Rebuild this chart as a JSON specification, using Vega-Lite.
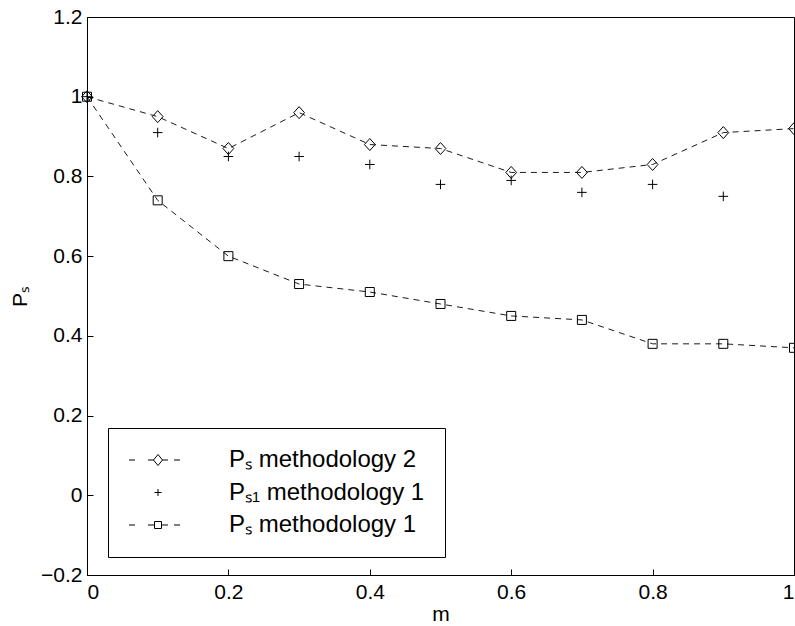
{
  "$schema": "https://vega.github.io/schema/vega-lite/v6.json",
  "width": 707,
  "height": 558,
  "autosize": {"type": "none"},
  "padding": {"left": 87, "top": 17, "right": 1, "bottom": 51},
  "background": "white",
  "config": {
    "view": {"stroke": "black", "strokeWidth": 1},
    "font": "Liberation Sans",
    "axis": {
      "domainColor": "black", "tickColor": "black", "labelColor": "black", "titleColor": "black",
      "labelFont": "Liberation Sans", "titleFont": "Liberation Sans",
      "labelFontSize": 21, "titleFontSize": 21, "titleFontWeight": "normal",
      "grid": false, "tickSize": -6, "domainWidth": 1, "tickWidth": 1
    }
  },
  "data": {"values": [
    {"m": 0.0, "value": 1.0, "series": "Pₛ methodology 2"},
    {"m": 0.1, "value": 0.95, "series": "Pₛ methodology 2"},
    {"m": 0.2, "value": 0.87, "series": "Pₛ methodology 2"},
    {"m": 0.3, "value": 0.96, "series": "Pₛ methodology 2"},
    {"m": 0.4, "value": 0.88, "series": "Pₛ methodology 2"},
    {"m": 0.5, "value": 0.87, "series": "Pₛ methodology 2"},
    {"m": 0.6, "value": 0.81, "series": "Pₛ methodology 2"},
    {"m": 0.7, "value": 0.81, "series": "Pₛ methodology 2"},
    {"m": 0.8, "value": 0.83, "series": "Pₛ methodology 2"},
    {"m": 0.9, "value": 0.91, "series": "Pₛ methodology 2"},
    {"m": 1.0, "value": 0.92, "series": "Pₛ methodology 2"},
    {"m": 0.0, "value": 1.0, "series": "Pₛ₁ methodology 1"},
    {"m": 0.1, "value": 0.91, "series": "Pₛ₁ methodology 1"},
    {"m": 0.2, "value": 0.85, "series": "Pₛ₁ methodology 1"},
    {"m": 0.3, "value": 0.85, "series": "Pₛ₁ methodology 1"},
    {"m": 0.4, "value": 0.83, "series": "Pₛ₁ methodology 1"},
    {"m": 0.5, "value": 0.78, "series": "Pₛ₁ methodology 1"},
    {"m": 0.6, "value": 0.79, "series": "Pₛ₁ methodology 1"},
    {"m": 0.7, "value": 0.76, "series": "Pₛ₁ methodology 1"},
    {"m": 0.8, "value": 0.78, "series": "Pₛ₁ methodology 1"},
    {"m": 0.9, "value": 0.75, "series": "Pₛ₁ methodology 1"},
    {"m": 0.0, "value": 1.0, "series": "Pₛ methodology 1"},
    {"m": 0.1, "value": 0.74, "series": "Pₛ methodology 1"},
    {"m": 0.2, "value": 0.60, "series": "Pₛ methodology 1"},
    {"m": 0.3, "value": 0.53, "series": "Pₛ methodology 1"},
    {"m": 0.4, "value": 0.51, "series": "Pₛ methodology 1"},
    {"m": 0.5, "value": 0.48, "series": "Pₛ methodology 1"},
    {"m": 0.6, "value": 0.45, "series": "Pₛ methodology 1"},
    {"m": 0.7, "value": 0.44, "series": "Pₛ methodology 1"},
    {"m": 0.8, "value": 0.38, "series": "Pₛ methodology 1"},
    {"m": 0.9, "value": 0.38, "series": "Pₛ methodology 1"},
    {"m": 1.0, "value": 0.37, "series": "Pₛ methodology 1"}
  ]},
  "encoding": {
    "x": {"field": "m", "type": "quantitative",
      "scale": {"domain": [0, 1], "nice": false, "zero": false},
      "axis": {"values": [0, 0.2, 0.4, 0.6, 0.8, 1], "format": "~g", "title": "m", "labelPadding": 12, "titlePadding": 1}},
    "y": {"field": "value", "type": "quantitative",
      "scale": {"domain": [-0.2, 1.2], "nice": false, "zero": false},
      "axis": {"values": [-0.2, 0, 0.2, 0.4, 0.6, 0.8, 1, 1.2], "format": "~g", "title": "Pₛ", "labelPadding": 11, "titlePadding": 10}}
  },
  "layer": [
    {
      "transform": [{"filter": "datum.series != 'Pₛ₁ methodology 1'"}],
      "mark": {"type": "line", "color": "black", "strokeWidth": 0.9, "strokeDash": [6, 5]},
      "encoding": {"detail": {"field": "series"}}
    },
    {
      "mark": {"type": "point", "filled": false, "color": "black", "strokeWidth": 1, "size": 144, "opacity": 1},
      "encoding": {
        "shape": {"field": "series", "type": "nominal", "legend": null,
          "scale": {"domain": ["Pₛ methodology 2", "Pₛ₁ methodology 1", "Pₛ methodology 1"],
            "range": ["M0,-1L0.9,0L0,1L-0.9,0Z", "M-0.8,0H0.8M0,-0.8V0.8", "M-0.75,-0.75H0.75V0.75H-0.75Z"]}}
      }
    },
    {
      "transform": [{"filter": "false"}],
      "mark": {"type": "point", "filled": false, "color": "black", "strokeWidth": 1, "size": 100},
      "encoding": {
        "shape": {"field": "series", "type": "nominal",
          "scale": {"domain": ["Pₛ methodology 2", "Pₛ₁ methodology 1", "Pₛ methodology 1"],
            "range": ["M-5.8,0H-4.6M-2,0H-0.9M0.9,0H2M3.2,0H4.4M0,-1.1L0.9,0L0,1.1L-0.9,0Z", "M-0.7,0H0.7M0,-0.7V0.7", "M-5.8,0H-4.6M-2,0H-0.7M0.7,0H2M3.2,0H4.4M-0.7,-0.7H0.7V0.7H-0.7Z"]},
          "legend": {
            "title": null, "orient": "none", "legendX": 21, "legendY": 411,
            "strokeColor": "black", "fillColor": "white", "padding": 20, "cornerRadius": 0,
            "labelFont": "Liberation Sans", "labelFontSize": 24, "labelColor": "black", "labelLimit": 500,
            "symbolStrokeColor": "black", "symbolStrokeWidth": 1, "symbolOpacity": 1, "symbolFillColor": "transparent",
            "rowPadding": 8.5, "labelOffset": 59, "symbolOffset": 18
          }
        }
      }
    }
  ],
  "resolve": {"scale": {"shape": "independent"}, "legend": {"shape": "independent"}}
}
